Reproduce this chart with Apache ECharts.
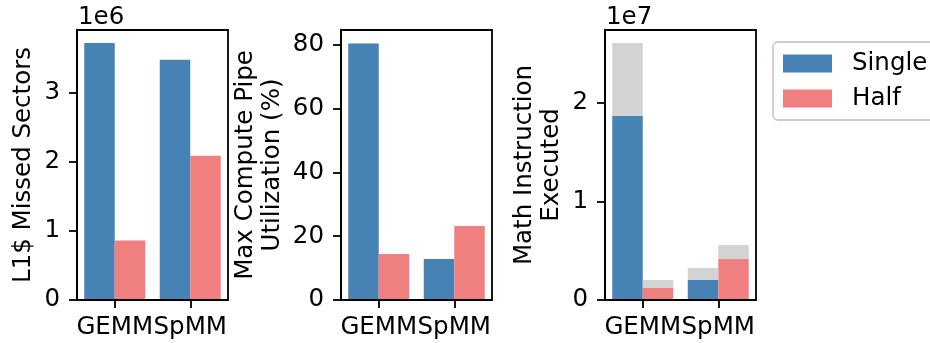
<!DOCTYPE html>
<html><head><meta charset="utf-8">
<script src="https://cdn.jsdelivr.net/npm/echarts@6/dist/echarts.min.js"></script>
<style>html,body{margin:0;padding:0;background:#fff}#c{width:930px;height:343px}</style>
</head><body><div id="c"></div>
<script>
// ---- data ----
const categories = ['GEMM', 'SpMM'];
const seriesNames = ['Single', 'Half'];
const missedSingle = [3.72e6, 3.48e6];
const missedHalf = [0.86e6, 2.09e6];
const utilSingle = [80.5, 12.9];
const utilHalf = [14.4, 23.2];
const mathSingle = [1.864e7, 0.203e7];
const mathHalf = [0.122e7, 0.415e7];
const mathSingleTotal = [2.604e7, 0.324e7];
const mathHalfTotal = [0.203e7, 0.557e7];
const yMax = [3.91e6, 84.7, 2.737e7];
const yTicks1 = [0, 1e6, 2e6, 3e6];
const yTicks2 = [0, 20, 40, 60, 80];
const yTicks3 = [0, 1e7, 2e7];
const yScale = [1e6, 1, 1e7];
const yNames = ['L1$ Missed Sectors', 'Max Compute Pipe\nUtilization (%)', 'Math Instruction\nExecuted'];
const offsetLabels = ['1e6', '', '1e7'];

// ---- styles ----
const FONT = 'DejaVu Sans';
const FS = 24.5;
const BLUE = '#4682B4', RED = '#F08080', GRAY = '#D3D3D3';
const gridLefts = [77, 341, 605];
const nameGaps = [40, 55, 40];
const tickSets = [yTicks1, yTicks2, yTicks3];

const chart = echarts.init(document.getElementById('c'), null, {renderer: 'canvas'});

const grids = gridLefts.map(l => ({left: l, top: 30, width: 151, height: 270, show: true,
  borderColor: '#000', borderWidth: 1.8, backgroundColor: 'transparent'}));

const xAxes = gridLefts.map((l, i) => ({
  type: 'category', gridIndex: i, data: categories, z: 5,
  axisLine: {show: true, lineStyle: {color: '#000', width: 1.8}},
  axisTick: {show: true, alignWithLabel: true, length: 8, lineStyle: {color: '#000', width: 1.8}},
  axisLabel: {color: '#000', fontFamily: FONT, fontSize: FS, margin: 15, interval: 0},
  splitLine: {show: false}
}));

const yAxes = gridLefts.map((l, i) => ({
  type: 'value', gridIndex: i, min: 0, max: yMax[i], z: 5,
  name: yNames[i], nameLocation: 'middle', nameRotate: 90, nameGap: nameGaps[i],
  nameTextStyle: {color: '#000', fontFamily: FONT, fontSize: FS, lineHeight: 27},
  axisLine: {show: true, lineStyle: {color: '#000', width: 1.8}},
  axisTick: {show: true, length: 8, customValues: tickSets[i], lineStyle: {color: '#000', width: 1.8}},
  axisLabel: {color: '#000', fontFamily: FONT, fontSize: FS, margin: 17, customValues: tickSets[i],
    formatter: v => String(Math.round(v / yScale[i]))},
  splitLine: {show: false}
}));

const bw = 30.5;
const series = [
  {name: seriesNames[0], type: 'bar', xAxisIndex: 0, yAxisIndex: 0, data: missedSingle, barWidth: bw, barGap: '0%', itemStyle: {color: BLUE}},
  {name: seriesNames[1], type: 'bar', xAxisIndex: 0, yAxisIndex: 0, data: missedHalf, barWidth: bw, barGap: '0%', itemStyle: {color: RED}},
  {name: seriesNames[0], type: 'bar', xAxisIndex: 1, yAxisIndex: 1, data: utilSingle, barWidth: bw, barGap: '0%', itemStyle: {color: BLUE}},
  {name: seriesNames[1], type: 'bar', xAxisIndex: 1, yAxisIndex: 1, data: utilHalf, barWidth: bw, barGap: '0%', itemStyle: {color: RED}},
  {name: seriesNames[0], type: 'bar', xAxisIndex: 2, yAxisIndex: 2, data: mathSingle, stack: 's', barWidth: bw, barGap: '0%', itemStyle: {color: BLUE}},
  {name: seriesNames[1], type: 'bar', xAxisIndex: 2, yAxisIndex: 2, data: mathHalf, stack: 'h', barWidth: bw, barGap: '0%', itemStyle: {color: RED}},
  {name: 'Single total', type: 'bar', xAxisIndex: 2, yAxisIndex: 2, stack: 's', barWidth: bw, barGap: '0%', itemStyle: {color: GRAY},
    data: mathSingleTotal.map((t, k) => t - mathSingle[k])},
  {name: 'Half total', type: 'bar', xAxisIndex: 2, yAxisIndex: 2, stack: 'h', barWidth: bw, barGap: '0%', itemStyle: {color: GRAY},
    data: mathHalfTotal.map((t, k) => t - mathHalf[k])}
];

const graphics = gridLefts.map((l, i) => offsetLabels[i] ? {
  type: 'text', left: l + 1, top: 5,
  style: {text: offsetLabels[i], fontFamily: FONT, fontSize: FS, fill: '#000'}
} : null).filter(Boolean);

chart.setOption({
  animation: false,
  backgroundColor: '#fff',
  grid: grids,
  xAxis: xAxes,
  yAxis: yAxes,
  series: series,
  graphic: graphics,
  legend: {
    data: seriesNames, orient: 'vertical', left: 773, top: 42,
    padding: [9, 14, 9, 10], itemWidth: 49, itemHeight: 18, itemGap: 10,
    icon: 'rect',
    borderColor: '#cccccc', borderWidth: 1.8, borderRadius: 5,
    textStyle: {color: '#000', fontFamily: FONT, fontSize: FS, padding: [0, 0, 0, 15]}
  }
});
</script>
</body></html>
